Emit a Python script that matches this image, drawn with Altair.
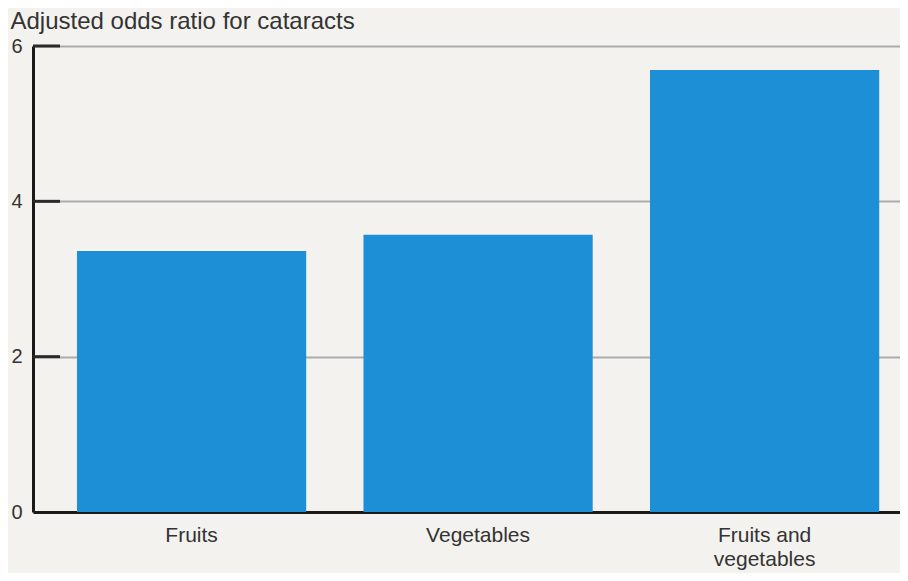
import altair as alt
import pandas as pd

categories = ["Fruits", "Vegetables", "Fruits and vegetables"]
odds_ratios = [3.36, 3.57, 5.69]
tick_values = [0, 2, 4, 6]

df = pd.DataFrame({"category": categories, "odds": odds_ratios})
ticks_df = pd.DataFrame({"v": [t for t in tick_values if t > 0]})

FONT = "Liberation Sans"

x_enc = alt.X(
    "category:N",
    sort=categories,
    scale=alt.Scale(paddingInner=0.2, paddingOuter=0.113, align=0.679),
    axis=alt.Axis(
        title=None,
        labelAngle=0,
        ticks=False,
        domainColor="#1a1a1a",
        domainWidth=3,
        labelFont=FONT,
        labelFontSize=21,
        labelColor="#333333",
        labelPadding=12,
        labelLineHeight=24,
        labelExpr="datum.label == 'Fruits and vegetables' ? ['Fruits and', 'vegetables'] : datum.label",
    ),
)

y_scale = alt.Scale(domain=[0, 6])

bars = alt.Chart(df).mark_bar(color="#1d8fd6").encode(
    x=x_enc,
    y=alt.Y(
        "odds:Q",
        scale=y_scale,
        axis=alt.Axis(
            values=tick_values,
            format="d",
            title="Adjusted odds ratio for cataracts",
            titleAngle=0,
            titleAlign="left",
            titleBaseline="alphabetic",
            titleX=-23,
            titleY=-18,
            titleFont=FONT,
            titleFontSize=24,
            titleFontWeight="normal",
            titleColor="#333333",
            ticks=False,
            labelPadding=11,
            labelFont=FONT,
            labelFontSize=20,
            labelColor="#333333",
            domainColor="#1a1a1a",
            domainWidth=3,
            grid=True,
            gridColor="#ababab",
            gridWidth=2,
        ),
    ),
)

inner_ticks = alt.Chart(ticks_df).mark_rule(color="#2a2a2a", strokeWidth=3).encode(
    y=alt.Y("v:Q", scale=y_scale),
    x=alt.value(0),
    x2=alt.value(27),
)

chart = (
    alt.layer(bars, inner_ticks)
    .properties(
        width=867,
        height=466,
        background="#f3f2ef",
        padding={"left": 25, "top": 38, "right": 0, "bottom": 61},
        autosize=alt.AutoSizeParams(type="none"),
    )
    .configure_view(stroke=None)
)

chart.save("out.html", embed_options={"renderer": "svg", "actions": False})
